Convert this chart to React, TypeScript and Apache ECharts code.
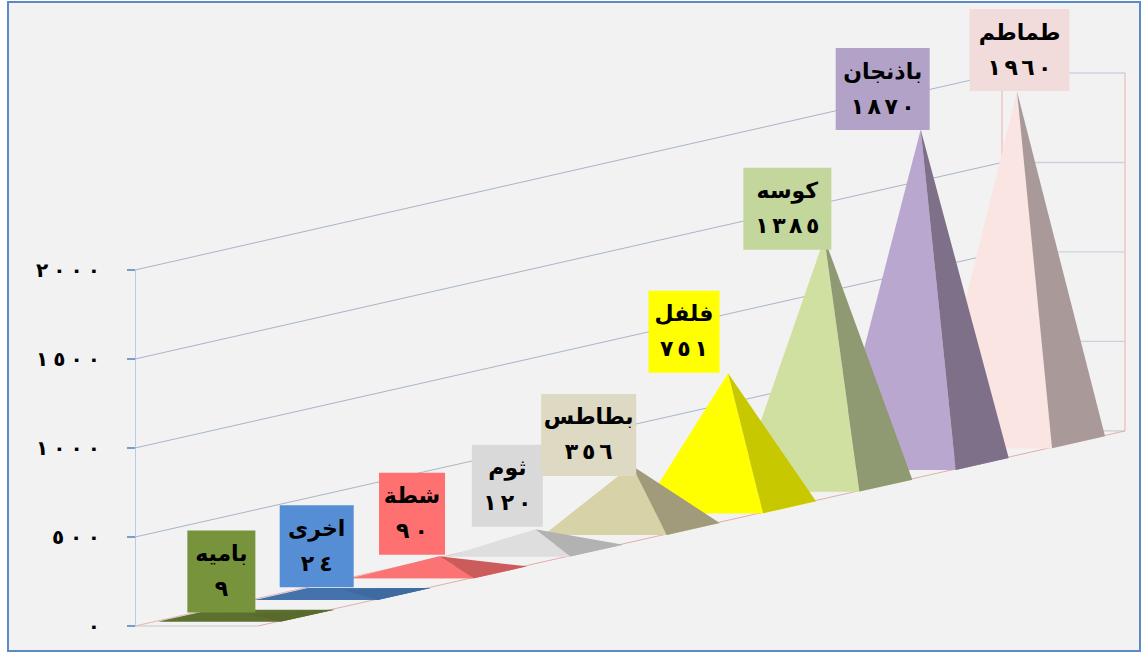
import React, { useEffect, useRef } from "react";
import * as echarts from "echarts";

const categories = ["باميه", "اخرى", "شطة", "ثوم", "بطاطس", "فلفل", "كوسه", "باذنجان", "طماطم"];
const values = [9, 24, 90, 120, 356, 751, 1385, 1870, 1960];
const tickValues = [0, 500, 1000, 1500, 2000];
const tickLabels = ["٠", "٥٠٠", "١٠٠٠", "١٥٠٠", "٢٠٠٠"];

const faceColors = ["#5d7030", "#4472aa", "#fb7373", "#dedede", "#d8d2a8", "#ffff00", "#cfe0a0", "#baa7cf", "#fae5e3"];
const sideColors = ["#596b2c", "#3f6aa0", "#cc5c5c", "#b2b2b2", "#a19b7b", "#c8c800", "#8f9a72", "#7f708a", "#a99a99"];
const labelColors = ["#77933c", "#558ed5", "#ff7171", "#d9d9d9", "#ddd9c3", "#ffff00", "#c3d69b", "#b3a2c7", "#f2dcdb"];
// label box placement relative to each pyramid's apex
const labelDx = [-25, -26, -27, -28, -43, -44, -37, -38, 2.5];
const labelDy = [-2, -3, -2, -3, 10, -1, 11, 0, -1];
const labelWidths = [68, 74, 66, 71, 95, 71, 88, 94, 100];

const LABEL_H = 82;
const GRID_LEFT = 135;
const SHEAR_FLOOR = 0.225;
const SHEAR_TOP = 0.2272;
const DEPTH = 123;
const BAR_WIDTH = 0.55;
const FONT = '"DejaVu Sans"';
const ARABIC_DIGITS = "٠١٢٣٤٥٦٧٨٩";
const toArabic = (n: number) => String(n).replace(/\d/g, (d) => ARABIC_DIGITS[+d]);

// category position + value + depth (0 = back wall, 1 = front edge) -> pixel
const project = (api: any, pos: number, value: number, depth: number): number[] => {
  const p = api.coord([pos, value]);
  const shear = SHEAR_FLOOR + ((SHEAR_TOP - SHEAR_FLOOR) * value) / 2000;
  return [p[0] + depth * DEPTH, p[1] - (p[0] - GRID_LEFT) * shear];
};

const renderWalls = (_: any, api: any) => {
  const line = (pts: number[][], stroke: string, lineWidth = 1) => ({
    type: "polyline",
    shape: { points: pts },
    style: { stroke, lineWidth, fill: "none" },
  });
  const children: any[] = [];
  tickValues.forEach((v) => {
    if (v === 0) return;
    children.push(line([project(api, 0, v, 0), project(api, 9, v, 0)], "#a9b5c6"));
    children.push(line([project(api, 9, v, 0), project(api, 9, v, 1)], "#ccd2dd", 1.3));
  });
  children.push(line([project(api, 9, 0, 0), project(api, 9, 2000, 0)], "#f0b9b9", 1.2));
  children.push(line([project(api, 9, 0, 1), project(api, 9, 2000, 1)], "#f0b9b9", 1.2));
  children.push(line([project(api, 0, 0, 0), project(api, 9, 0, 0)], "#e8b5b5"));
  children.push(line([project(api, 9, 0, 0), project(api, 9, 0, 1)], "#c4c4c4"));
  children.push(line([project(api, 0, 0, 0), project(api, 0, 0, 1)], "#c8c8c8", 1.2));
  children.push(line([project(api, 0, 0, 1), project(api, 9, 0, 1)], "#e3adad"));
  return { type: "group", children };
};

const renderPyramid = (_: any, api: any) => {
  const i = api.value(0);
  const v = api.value(1);
  const c = i + 0.5;
  const w = BAR_WIDTH / 2;
  const nudge = (p: number[]) => [p[0] + 1.7, p[1] + 0.5];
  const left = nudge(project(api, c - w, 0, 0));
  const front = nudge(project(api, c - w, 0, 1));
  const right = nudge(project(api, c + w, 0, 1));
  const back = nudge(project(api, c + w, 0, 0));
  const apex = nudge(project(api, c, v, 0.5));
  return {
    type: "group",
    children: [
      { type: "polygon", shape: { points: [left, back, right, front] }, style: { fill: faceColors[i] } },
      { type: "polygon", shape: { points: [left, front, apex] }, style: { fill: faceColors[i] } },
      { type: "polygon", shape: { points: [front, right, apex] }, style: { fill: sideColors[i] } },
    ],
  };
};

const renderLabel = (_: any, api: any) => {
  const i = api.value(0);
  const v = api.value(1);
  const apex = project(api, i + 0.5, v, 0.5);
  const cx = apex[0] + 1.7 + labelDx[i];
  const bottom = apex[1] + 1 + labelDy[i];
  const top = bottom - LABEL_H;
  const w = labelWidths[i];
  const text = (t: string, y: number, size: number) => ({
    type: "text",
    style: {
      text: t,
      x: cx,
      y,
      align: "center",
      verticalAlign: "middle",
      fontFamily: FONT,
      fontWeight: "bold",
      fontSize: size,
      fill: "#000",
    },
  });
  return {
    type: "group",
    children: [
      { type: "rect", shape: { x: cx - w / 2, y: top, width: w, height: LABEL_H }, style: { fill: labelColors[i] } },
      text(categories[i], top + 23, 22),
      text(toArabic(v), top + 58, 22),
    ],
  };
};

export default function App() {
  const ref = useRef<HTMLDivElement>(null);
  useEffect(() => {
    const chart = echarts.init(ref.current!, null, { renderer: "svg" });
    const points = values.map((v, i) => [i, v]);
    chart.setOption({
      animation: false,
      graphic: [
        {
          type: "rect",
          z: -10,
          silent: true,
          shape: { x: 8, y: 2, width: 1132, height: 649 },
          style: { fill: "#f2f2f2", stroke: "#5b8ac4", lineWidth: 2 },
        },
      ],
      grid: { left: GRID_LEFT, top: 270, width: 867, height: 356 },
      xAxis: { type: "value", min: 0, max: 9, show: false },
      yAxis: {
        type: "value",
        min: 0,
        max: 2000,
        interval: 500,
        splitLine: { show: false },
        axisLine: { show: true, lineStyle: { color: "#a9c4e6", type: "dotted", width: 1 } },
        axisTick: { show: true, length: 8, lineStyle: { color: "#4f81bd", width: 1.5 } },
        axisLabel: {
          margin: 35,
          fontFamily: FONT,
          fontWeight: "bold",
          fontSize: 20,
          color: "#000",
          formatter: (v: number) => tickLabels[tickValues.indexOf(v)],
        },
      },
      series: [
        { type: "custom", z: 1, silent: true, clip: false, renderItem: renderWalls, data: [[0, 0]], encode: { x: 0, y: 1 } },
        // drawn from the far end forward so nearer pyramids overlap farther ones
        { type: "custom", z: 2, silent: true, clip: false, renderItem: renderPyramid, data: [...points].reverse(), encode: { x: 0, y: 1 } },
        { type: "custom", z: 3, silent: true, clip: false, renderItem: renderLabel, data: points, encode: { x: 0, y: 1 } },
      ],
    });
    // the reference's digits are widely spaced: spread them with the SVG text's own length attribute
    const spreadDigits = () => {
      ref.current?.querySelectorAll("text").forEach((t) => {
        const s = (t.textContent || "").trim();
        if (s.length > 1 && /^[٠-٩]+$/.test(s)) {
          t.setAttribute("textLength", String(s.length * 16));
          t.setAttribute("lengthAdjust", "spacing");
        }
      });
    };
    chart.on("finished", spreadDigits);
    const raf = requestAnimationFrame(() => requestAnimationFrame(spreadDigits));
    return () => {
      cancelAnimationFrame(raf);
      chart.dispose();
    };
  }, []);
  return <div ref={ref} style={{ position: "fixed", left: 0, top: 0, width: 1143, height: 653, background: "#fff" }} />;
}
